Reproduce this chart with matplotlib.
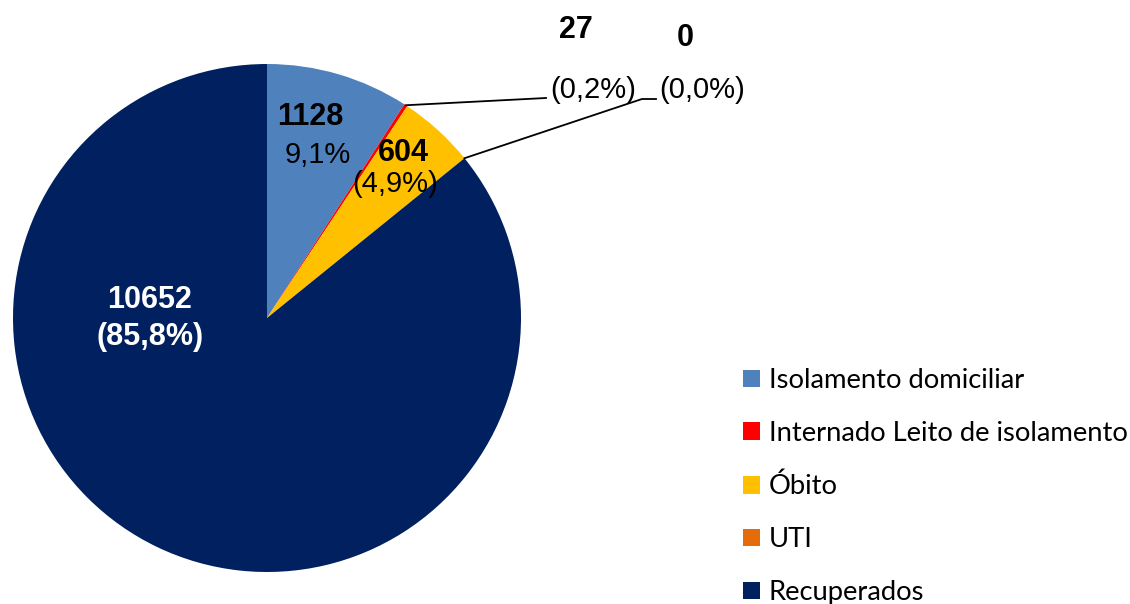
import matplotlib
matplotlib.use("Agg")
import matplotlib.pyplot as plt
from matplotlib.patches import Patch
import numpy as np

categories = ["Isolamento domiciliar", "Internado Leito de isolamento", "Óbito", "UTI", "Recuperados"]
values = [1128, 27, 604, 0, 10652]
pct_labels = ["9,1%", "(0,2%)", "(4,9%)", "(0,0%)", "(85,8%)"]
colors = ["#4F81BD", "#FF0000", "#FFC000", "#E46C0A", "#002060"]

W, H = 1130, 604
fig = plt.figure(figsize=(W / 100, H / 100), dpi=100)
cx, cy, R = 267, 318, 254
ax = fig.add_axes([(cx - R) / W, (H - cy - R) / H, 2 * R / W, 2 * R / H])
ax.pie(values, colors=colors, startangle=90, counterclock=False, radius=1,
       wedgeprops=dict(linewidth=0))
ax.set_xlim(-1, 1)
ax.set_ylim(-1, 1)
ax.set_aspect("equal")
ax.axis("off")

norm = dict(family="Liberation Sans", ha="center", va="center", fontsize=21, clip_on=False)
bold = dict(family="Liberation Sans", ha="center", va="center", fontsize=22,
            fontweight="bold", clip_on=False)

def px(x, y):
    return ((x - cx) / R, (cy - y) / R)

# inside labels
ax.text(*px(310, 117), str(values[0]), **bold)
ax.text(*px(318, 155), pct_labels[0], **norm)
ax.text(*px(403, 153), str(values[2]), **bold)
ax.text(*px(395, 184), pct_labels[2], **norm)
ax.text(*px(150, 300), str(values[4]), color="white", **bold)
ax.text(*px(150, 337), pct_labels[4], color="white", **bold)

# outside labels
ax.text(*px(576, 30), str(values[1]), **bold)
ax.text(*px(593, 90), pct_labels[1], **norm)
ax.text(*px(685, 38), str(values[3]), **bold)
ax.text(*px(702, 90), pct_labels[3], **norm)

# leader lines from wedge mid-angles
total = sum(values)
cum = np.cumsum([0] + values)
def mid_pt(i):
    frac = (cum[i] + values[i] / 2) / total
    ang = np.deg2rad(90 - 360 * frac)
    return np.cos(ang), np.sin(ang)

p1 = mid_pt(1)
e1 = px(546, 98)
ax.plot([p1[0], e1[0]], [p1[1], e1[1]], color="black", lw=1.3, clip_on=False)
p3 = mid_pt(3)
e3a = px(642, 99)
e3b = px(656, 99)
ax.plot([p3[0], e3a[0], e3b[0]], [p3[1], e3a[1], e3b[1]], color="black", lw=1.3, clip_on=False)

handles = [Patch(facecolor=c, edgecolor="none") for c in colors]
fig.legend(handles, categories, loc="upper left",
           bbox_to_anchor=(743 / W, (H - 368) / H),
           frameon=False, prop=dict(family="Lato", size=19.7),
           borderpad=0, borderaxespad=0, labelspacing=1.02,
           handlelength=0.62, handleheight=0.62, handletextpad=0.33)

fig.savefig("out.png", dpi=100)
